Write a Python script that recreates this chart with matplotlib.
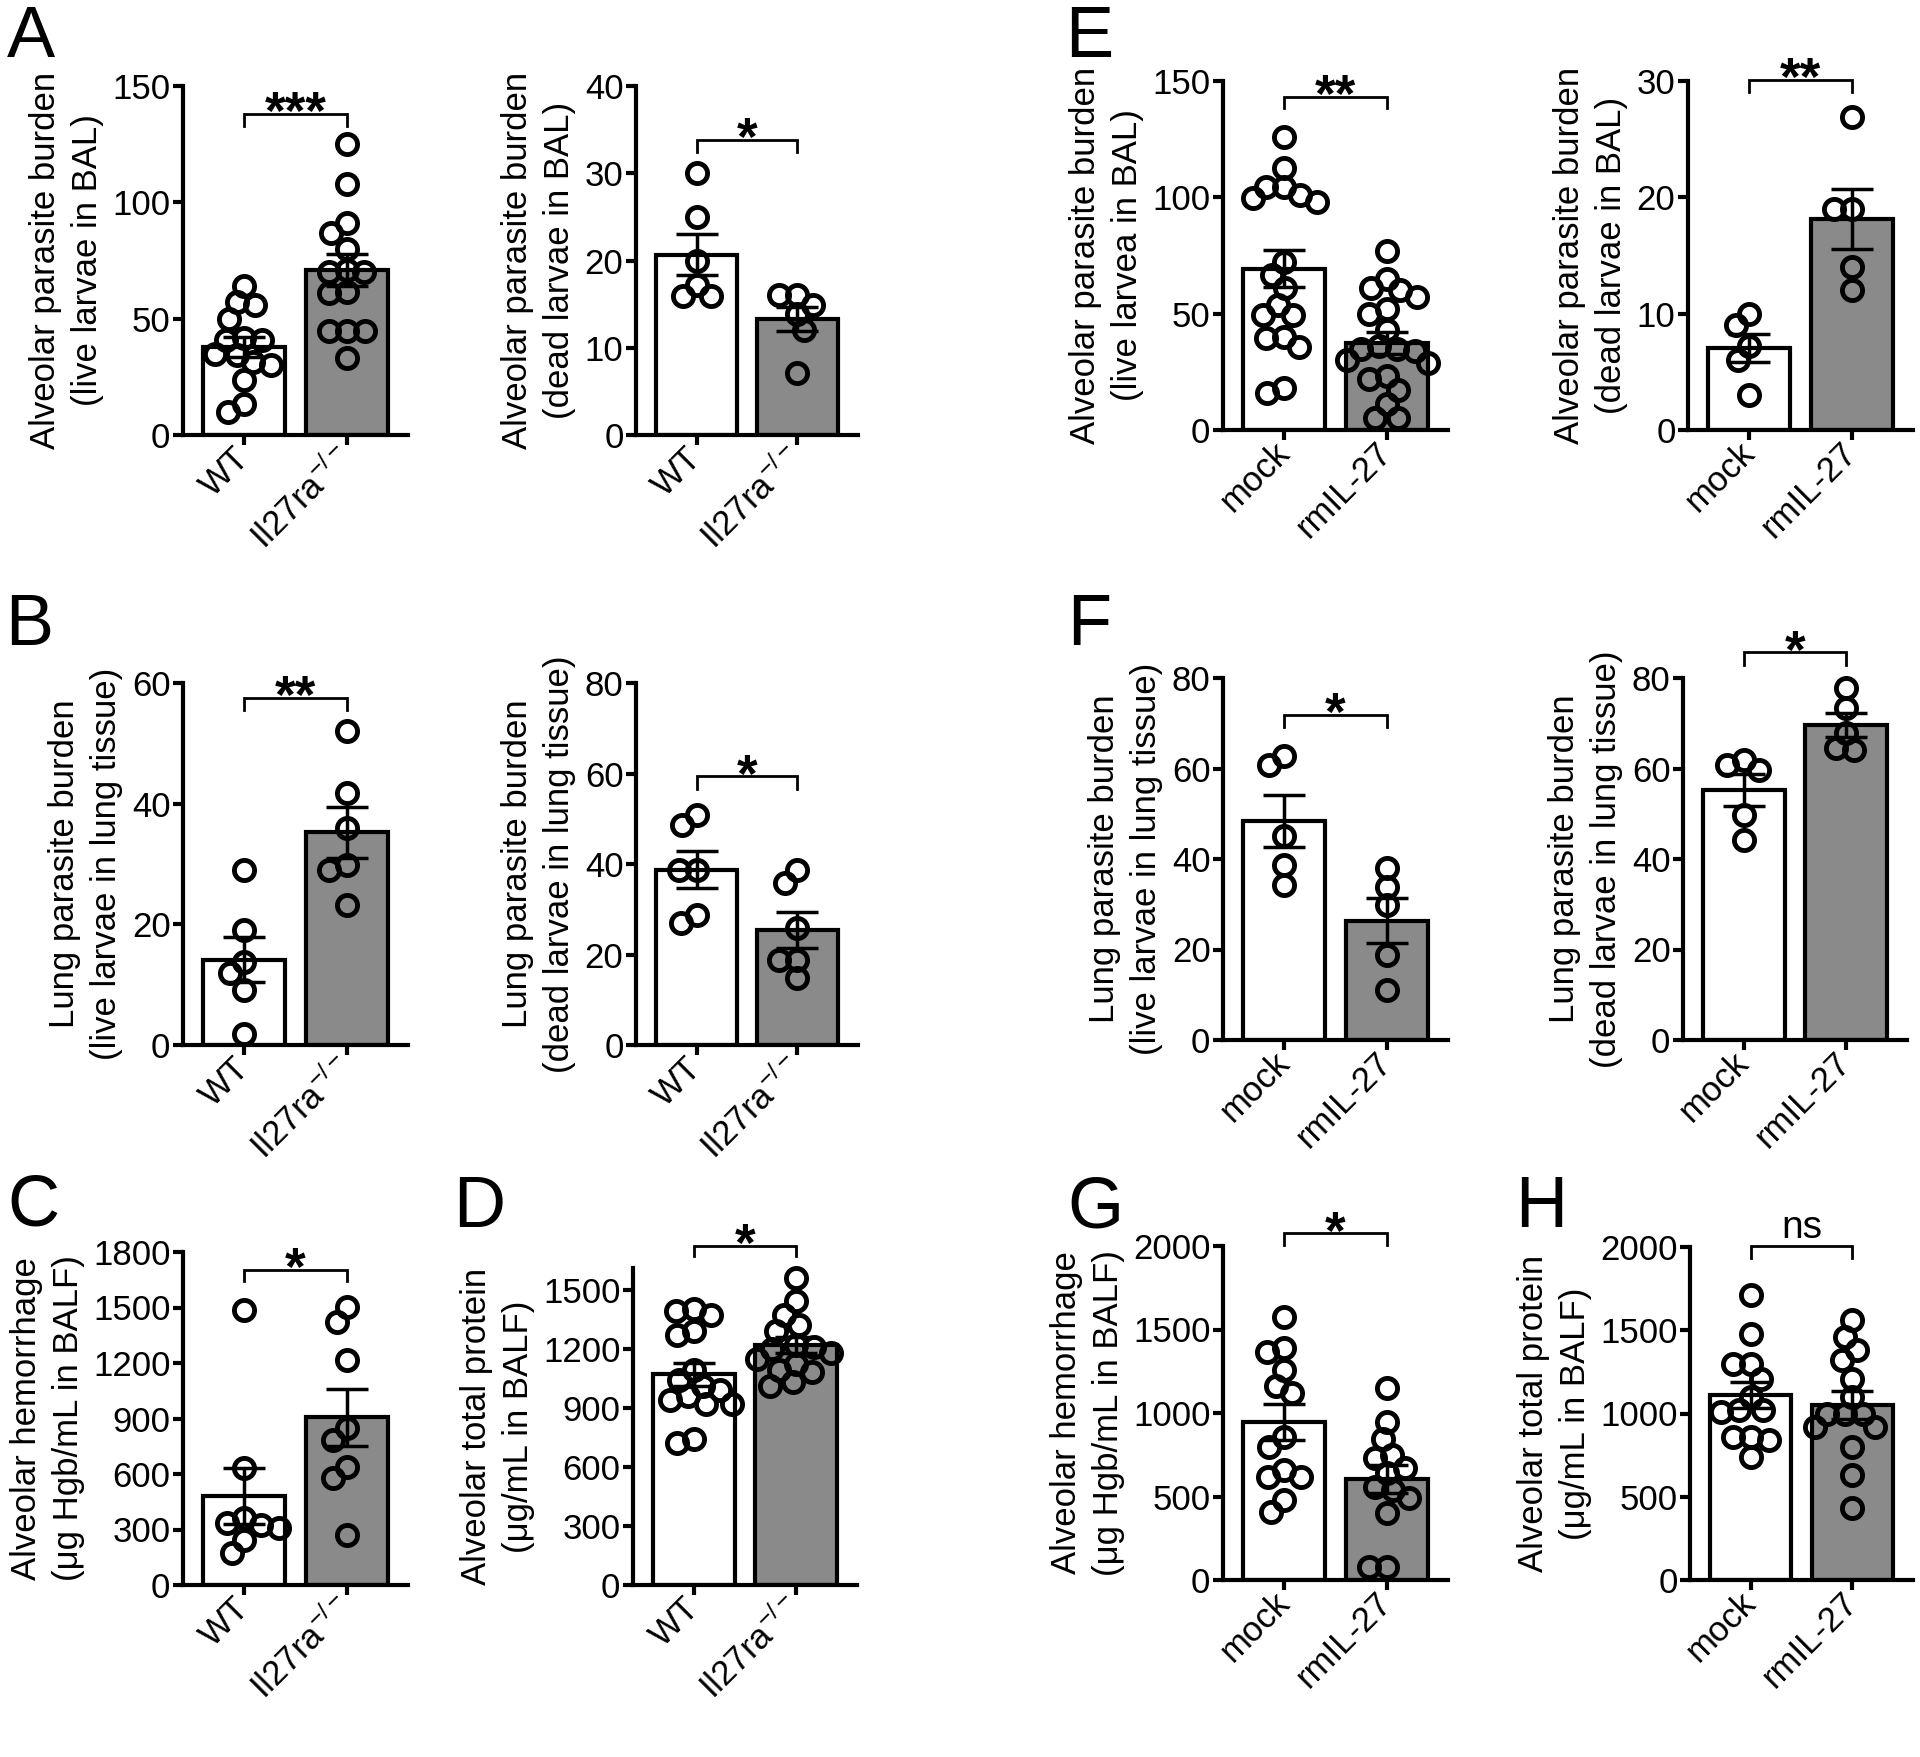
import numpy as np
import matplotlib
matplotlib.use('Agg')
import matplotlib.pyplot as plt

plt.rcParams['font.family'] = ['Liberation Sans', 'DejaVu Sans']
plt.rcParams['mathtext.fontset'] = 'custom'
plt.rcParams['mathtext.rm'] = 'Liberation Sans'
plt.rcParams['mathtext.it'] = 'Liberation Sans:italic'
plt.rcParams['mathtext.bf'] = 'Liberation Sans:bold'

# ---------------- data ----------------
ko_groups = ['WT', r'Il27ra$^{\mathregular{-/-}}$']
trt_groups = ['mock', 'rmIL-27']

a_live_wt = [64, 56, 57, 50, 41.5, 41, 41, 34.5, 35, 31.5, 30, 23.5, 13.5, 10]
a_live_ko = [125, 108, 91, 87, 80, 70, 71, 70, 61, 61.5, 44.5, 44.5, 44.5, 33]
a_dead_wt = [30, 25, 20, 17.2, 15.9, 15.9]
a_dead_ko = [16, 16, 14.9, 13.9, 12, 7.1]
b_live_wt = [29, 19.1, 13.8, 11.9, 9.1, 1.9]
b_live_ko = [52, 41.8, 35.9, 29.9, 29, 23.2]
b_dead_wt = [50.9, 48.7, 38.7, 38.7, 28.8, 26.9]
b_dead_ko = [38.7, 35.8, 25.8, 18.8, 18.8, 14.7]
c_hgb_wt = [1485, 630, 306, 333, 360, 324, 243, 171]
c_hgb_ko = [1503, 1422, 1215, 846, 783, 639, 576, 270]
d_prot_wt = [1400, 1390, 1370, 1290, 1270, 1090, 1040, 1010, 990, 960, 940, 920, 920, 740, 720]
d_prot_ko = [1560, 1440, 1370, 1320, 1290, 1220, 1210, 1200, 1180, 1150, 1120, 1090, 1080, 1030, 1010]
e_live_mock = [126, 112.5, 101, 104.6, 98.1, 99.6, 104.6, 72.4, 66.6, 60.9, 53.7, 49.4, 49.4,
               40.1, 39.4, 35.8, 15.8, 17.9]
e_live_rm = [77, 65, 61, 60, 57, 52, 50, 43, 34, 36, 35, 35, 29, 30, 22, 23, 17, 11, 5, 5]
e_dead_mock = [10, 9, 7.2, 6, 3]
e_dead_rm = [26.9, 19, 19, 14, 12]
f_live_mock = [62.7, 60.8, 45, 38.7, 34.3]
f_live_rm = [38, 33.9, 29.9, 18.8, 11.1]
f_dead_mock = [61.9, 60.8, 59.7, 49.8, 44.2]
f_dead_rm = [77.8, 73.4, 67.8, 64.1, 64.5]
g_hgb_mock = [1577, 1367, 1387, 1257, 1118, 1162, 798, 858, 619, 659, 619, 479, 409]
g_hgb_rm = [1148, 948, 842, 673, 729, 749, 639, 559, 539, 489, 399, 80, 80]
h_prot_mock = [1710, 1480, 1300, 1300, 1210, 1100, 1020, 1020, 1010, 860, 840, 860, 740]
h_prot_rm = [1560, 1460, 1380, 1320, 1210, 1100, 1000, 1000, 1000, 920, 920, 800, 630, 430]

lab_bal_live = 'Alveolar parasite burden\n(live larvae in BAL)'
lab_bal_dead = 'Alveolar parasite burden\n(dead larvae in BAL)'
lab_bal_live_e = 'Alveolar parasite burden\n(live larvea in BAL)'
lab_lung_live = 'Lung parasite burden\n(live larvae in lung tissue)'
lab_lung_dead = 'Lung parasite burden\n(dead larvae in lung tissue)'
lab_hgb = 'Alveolar hemorrhage\n(\u03bcg Hgb/mL in BALF)'
lab_prot = 'Alveolar total protein\n(\u03bcg/mL in BALF)'

# ---------------- style / layout ----------------
W, H = 1920, 1757
WHITE, GRAY = '#FFFFFF', '#8A8A8A'
FS = 25

fig = plt.figure(figsize=(W / 100, H / 100), dpi=100)


def add_axes_px(l, t, r, b):
    return fig.add_axes([l / W, 1 - b / H, (r - l) / W, (b - t) / H])


def swarm(values, ax, d_px=18.0):
    v = np.asarray(values, float)
    ypx = ax.transData.transform(np.column_stack([np.zeros(len(v)), v]))[:, 1]
    px_per_x = ax.transData.transform((1, 0))[0] - ax.transData.transform((0, 0))[0]
    order = np.argsort(-ypx, kind='stable')
    placed = []
    offs = np.zeros(len(v))
    for i in order:
        y = ypx[i]
        forb = []
        for (px, py) in placed:
            dy = abs(py - y)
            if dy < d_px:
                w = np.sqrt(d_px ** 2 - dy ** 2)
                forb.append((px - w, px + w))
        cands = [0.0] + [a for a, b in forb] + [b for a, b in forb]
        cands.sort(key=lambda c: (round(abs(c), 6), c))
        chosen = 0.0
        for c in cands:
            if all(not (a + 1e-6 < c < b - 1e-6) for a, b in forb):
                chosen = c
                break
        placed.append((chosen, y))
        offs[i] = chosen / px_per_x
    return offs


def draw(rect, groups, a, b, ymax, ytop_tick, ystep, ylabel, bracket_y, sig):
    ax = add_axes_px(*rect)
    ax.set_xlim(-0.6, 1.6)
    ax.set_ylim(0, ymax)
    vals = [np.asarray(a, float), np.asarray(b, float)]
    means = [v.mean() for v in vals]
    sems = [v.std(ddof=1) / np.sqrt(len(v)) for v in vals]
    ax.bar([0, 1], means, width=0.8, color=[WHITE, GRAY], edgecolor='black',
           linewidth=3, zorder=1)
    for i, v in enumerate(vals):
        off = swarm(v, ax)
        ax.plot(i + off, v, 'o', ms=14.5, mfc='none', mec='black', mew=3.5,
                zorder=3, clip_on=False)
    ax.errorbar([0, 1], means, yerr=sems, fmt='none', ecolor='black',
                elinewidth=2.5, capsize=15, capthick=2.5, zorder=4)
    for s in ['top', 'right']:
        ax.spines[s].set_visible(False)
    for s in ['left', 'bottom']:
        ax.spines[s].set_linewidth(3)
    ax.set_yticks(np.arange(0, ytop_tick + 1, ystep))
    ax.set_xticks([0, 1])
    ax.set_xticklabels(groups, rotation=45, ha='right', va='center',
                       rotation_mode='anchor')
    ax.tick_params(axis='both', direction='out', length=7, width=3,
                   labelsize=FS)
    ax.tick_params(axis='y', pad=2)
    ax.tick_params(axis='x', pad=6)
    ax.set_ylabel(ylabel, fontsize=FS, linespacing=1.35, labelpad=6)
    drop = 0.034 * ymax
    ax.plot([0, 0, 1, 1], [bracket_y - drop, bracket_y, bracket_y, bracket_y - drop],
            color='black', lw=2, clip_on=False, solid_joinstyle='miter')
    if sig == 'ns':
        ax.annotate(sig, xy=(0.5, bracket_y), xytext=(0, 6), textcoords='offset points',
                    ha='center', va='baseline', fontsize=28, annotation_clip=False)
    else:
        ax.annotate(sig, xy=(0.5, bracket_y), xytext=(0, -11), textcoords='offset points',
                    ha='center', va='baseline', fontsize=38, fontweight='bold',
                    annotation_clip=False)
    return ax


draw((183, 86, 408, 435), ko_groups, a_live_wt, a_live_ko, 150, 150, 50, lab_bal_live, 138, '***')
draw((636, 86, 858, 435), ko_groups, a_dead_wt, a_dead_ko, 40, 40, 10, lab_bal_dead, 33.8, '*')
draw((1223, 81, 1448, 430), trt_groups, e_live_mock, e_live_rm, 150, 150, 50, lab_bal_live_e, 143.3, '**')
draw((1688, 81, 1913, 430), trt_groups, e_dead_mock, e_dead_rm, 30, 30, 10, lab_bal_dead, 30.1, '**')

draw((183, 683, 408, 1045), ko_groups, b_live_wt, b_live_ko, 60, 60, 20, lab_lung_live, 57.5, '**')
draw((636, 683, 858, 1045), ko_groups, b_dead_wt, b_dead_ko, 80, 80, 20, lab_lung_dead, 59.4, '*')
draw((1223, 678, 1448, 1040), trt_groups, f_live_mock, f_live_rm, 80, 80, 20, lab_lung_live, 71.9, '*')
draw((1683, 678, 1907, 1040), trt_groups, f_dead_mock, f_dead_rm, 80, 80, 20, lab_lung_dead, 85.7, '*')

draw((183, 1252, 408, 1585), ko_groups, c_hgb_wt, c_hgb_ko, 1800, 1800, 300, lab_hgb, 1705, '*')
draw((633, 1268, 857, 1585), ko_groups, d_prot_wt, d_prot_ko, 1610, 1500, 300, lab_prot, 1724, '*')
draw((1223, 1246, 1448, 1580), trt_groups, g_hgb_mock, g_hgb_rm, 2000, 2000, 500, lab_hgb, 2076, '*')
draw((1690, 1247, 1913, 1580), trt_groups, h_prot_mock, h_prot_rm, 2000, 2000, 500, lab_prot, 2004, 'ns')

for letter, x, y in [('A', 7, 57), ('E', 1065, 57), ('B', 5, 645), ('F', 1067, 645),
                     ('C', 7, 1226), ('D', 453, 1227), ('G', 1067, 1228), ('H', 1515, 1227)]:
    fig.text(x / W, 1 - y / H, letter, fontsize=52, ha='left', va='baseline')

fig.savefig('out.png', dpi=100, facecolor='white')
